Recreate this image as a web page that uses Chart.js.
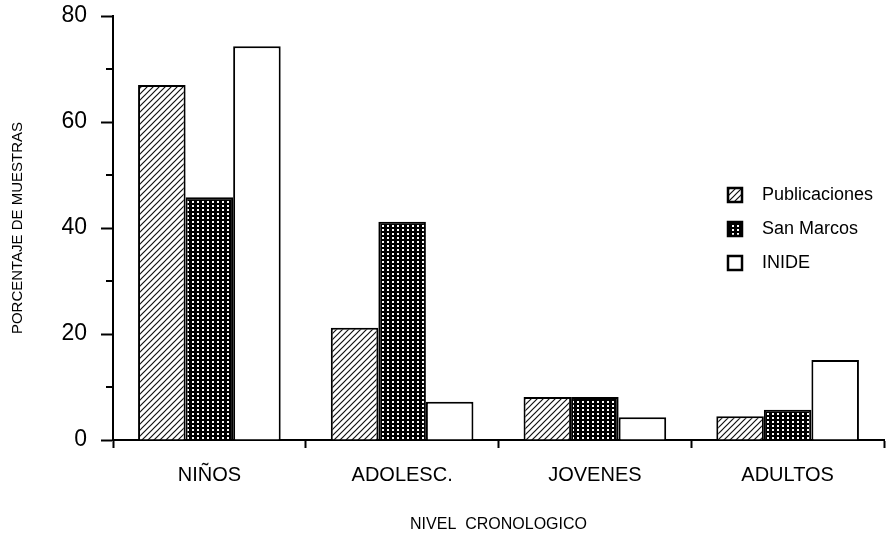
<!DOCTYPE html>
<html>
<head>
<meta charset="utf-8">
<script src="https://cdn.jsdelivr.net/npm/chart.js@4.4.1/dist/chart.umd.min.js"></script>
<style>
  body { margin: 0; background: #fff; }
  #wrap { width: 887px; height: 534px; }
</style>
</head>
<body>
<div id="wrap"><canvas id="grafico" width="887" height="534"></canvas></div>
<script>
// datos
const categorias = ['NIÑOS', 'ADOLESC.', 'JOVENES', 'ADULTOS'];
const publicaciones = [67, 21.2, 8.1, 4.5];
const sanMarcos = [45.8, 41.2, 8.1, 5.7];
const inide = [74.3, 7.2, 4.3, 15.1];
const etiquetasY = [0, 20, 40, 60, 80];

const fuente = "'Liberation Sans', Arial, sans-serif";

// Patrones de relleno
function patronRayado() {
    const c = document.createElement('canvas');
    c.width = 6; c.height = 6;
    const g = c.getContext('2d');
    g.fillStyle = '#fff';
    g.fillRect(0, 0, 6, 6);
    g.strokeStyle = '#111';
    g.lineWidth = 1.2;
    g.beginPath();
    g.moveTo(-1, 7); g.lineTo(7, -1);
    g.moveTo(-1, 1); g.lineTo(1, -1);
    g.moveTo(5, 7); g.lineTo(7, 5);
    g.stroke();
    return g.createPattern(c, 'repeat');
}

function patronPuntos() {
    const c = document.createElement('canvas');
    c.width = 5; c.height = 4;
    const g = c.getContext('2d');
    g.fillStyle = '#000';
    g.fillRect(0, 0, 5, 4);
    g.fillStyle = '#fff';
    g.fillRect(2, 1, 2, 2);
    return g.createPattern(c, 'repeat');
}

const rayado = patronRayado();
const puntos = patronPuntos();

// Ticks menores del eje Y (10, 30, 50, 70)
const ticksMenores = {
    id: 'ticksMenores',
    afterDraw(chart) {
        const ctx = chart.ctx;
        const y = chart.scales.y;
        ctx.save();
        ctx.strokeStyle = '#000';
        ctx.lineWidth = 2;
        y.ticks.forEach(t => {
            if (etiquetasY.includes(t.value)) return;
            const py = y.getPixelForValue(t.value);
            ctx.beginPath();
            ctx.moveTo(y.right - 7, py);
            ctx.lineTo(y.right, py);
            ctx.stroke();
        });
        ctx.restore();
    }
};

// Leyenda dibujada a mano dentro del area
const leyenda = {
    id: 'leyenda',
    afterDraw(chart) {
        const ctx = chart.ctx;
        ctx.save();
        chart.data.datasets.forEach((ds, i) => {
            const cy = 195 + i * 34;
            ctx.fillStyle = ds.backgroundColor;
            ctx.fillRect(728, cy - 7, 14, 14);
            ctx.strokeStyle = '#000';
            ctx.lineWidth = 2.5;
            ctx.strokeRect(728, cy - 7, 14, 14);
            ctx.fillStyle = '#000';
            ctx.font = '18px ' + fuente;
            ctx.textBaseline = 'middle';
            ctx.fillText(ds.label, 762, cy);
        });
        ctx.restore();
    }
};

const ctx = document.getElementById('grafico').getContext('2d');
new Chart(ctx, {
    type: 'bar',
    data: {
        labels: categorias,
        datasets: [
            { label: 'Publicaciones', data: publicaciones, backgroundColor: rayado },
            { label: 'San Marcos', data: sanMarcos, backgroundColor: puntos },
            { label: 'INIDE', data: inide, backgroundColor: '#fff' }
        ]
    },
    options: {
        responsive: false,
        animation: false,
        layout: { padding: { top: 16, right: 3, bottom: 0, left: 0 } },
        datasets: {
            bar: {
                borderColor: '#000',
                borderWidth: 2,
                categoryPercentage: 0.74,
                barPercentage: 1.0
            }
        },
        plugins: {
            legend: { display: false },
            tooltip: { enabled: false }
        },
        scales: {
            x: {
                grid: {
                    drawOnChartArea: false,
                    tickLength: 8,
                    tickColor: '#000',
                    tickWidth: 2
                },
                border: { color: '#000', width: 2 },
                ticks: {
                    color: '#000',
                    padding: 15,
                    font: { family: fuente, size: 20 }
                },
                title: {
                    display: true,
                    text: 'NIVEL  CRONOLOGICO',
                    color: '#000',
                    padding: { top: 0, bottom: 0 },
                    font: { family: fuente, size: 16 }
                },
                afterFit: s => { s.height = 94; s.paddingLeft = 0; s.paddingRight = 0; }
            },
            y: {
                min: 0,
                max: 80,
                grid: {
                    drawOnChartArea: false,
                    tickLength: 12,
                    tickWidth: 2,
                    tickColor: c => etiquetasY.includes(c.tick.value) ? '#000' : 'rgba(0,0,0,0)'
                },
                border: { color: '#000', width: 2 },
                ticks: {
                    stepSize: 10,
                    autoSkip: false,
                    color: '#000',
                    padding: 14,
                    font: { family: fuente, size: 23 },
                    callback: v => etiquetasY.includes(v) ? v : ''
                },
                title: {
                    display: true,
                    text: 'PORCENTAJE DE MUESTRAS',
                    color: '#000',
                    padding: { top: 9, bottom: 0 },
                    font: { family: fuente, size: 15 }
                },
                afterFit: s => { s.width = 113; s.paddingTop = 0; s.paddingBottom = 0; }
            }
        }
    },
    plugins: [ticksMenores, leyenda]
});
</script>
</body>
</html>
